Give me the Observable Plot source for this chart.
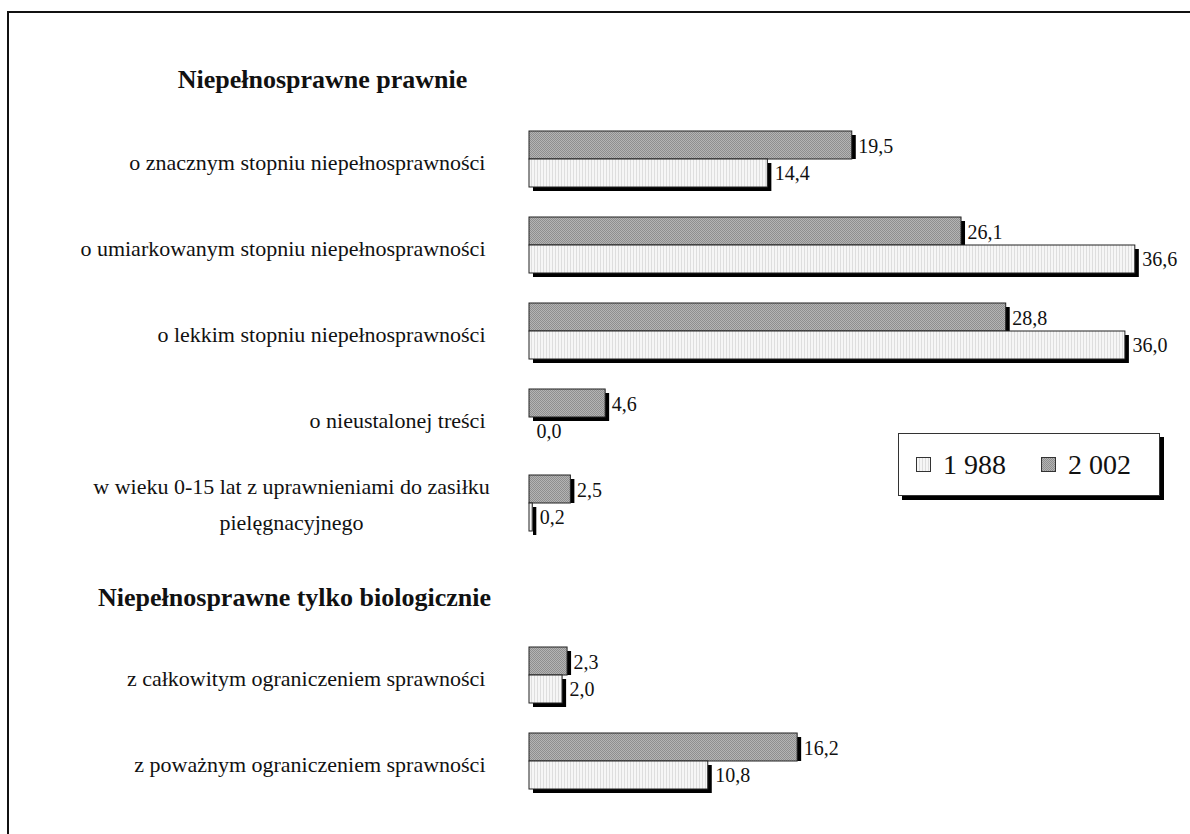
<!DOCTYPE html>
<html>
<head>
<meta charset="utf-8">
<script src="https://cdn.jsdelivr.net/npm/d3@7"></script>
<script src="https://cdn.jsdelivr.net/npm/@observablehq/plot@0.6"></script>
<style>
  html, body { margin: 0; padding: 0; background: #fff; }
  #wrap { position: relative; width: 1190px; height: 834px; overflow: hidden; font-family: "Liberation Serif", "Times New Roman", "DejaVu Serif", serif; }
  #chart svg, #chart svg text { font-family: "Liberation Serif", "Times New Roman", "DejaVu Serif", serif !important; }
  #frame { position: absolute; left: 7px; top: 11px; width: 1300px; height: 1000px; border-left: 2px solid #111; border-top: 2px solid #111; pointer-events: none; }
  #legend { position: absolute; left: 898px; top: 433px; width: 260px; height: 61px; border: 1px solid #333; background: #fff; box-shadow: 4px 4px 0 #000; display: flex; align-items: center; font-size: 28px; color: #111; }
  #legend .item { display: flex; align-items: center; margin-left: 17px; }
  #legend .item + .item { margin-left: 35px; }
  #legend svg { margin-right: 12px; }
</style>
</head>
<body>
<div id="wrap">
  <div id="chart"></div>
  <div id="frame"></div>
  <div id="legend"></div>
</div>
<script>
// ---- data ----
const headings = ["Niepełnosprawne prawnie", "Niepełnosprawne tylko biologicznie"];
const categories = [
  "o znacznym stopniu niepełnosprawności",
  "o umiarkowanym stopniu niepełnosprawności",
  "o lekkim stopniu niepełnosprawności",
  "o nieustalonej treści",
  "w wieku 0-15 lat z uprawnieniami do zasiłku\npielęgnacyjnego",
  "z całkowitym ograniczeniem sprawności",
  "z poważnym ograniczeniem sprawności"
];
const groupOf = [0, 0, 0, 0, 0, 1, 1];
const values1988 = [14.4, 36.6, 36.0, 0.0, 0.2, 2.0, 10.8];
const values2002 = [19.5, 26.1, 28.8, 4.6, 2.5, 2.3, 16.2];
const seriesNames = ["1 988", "2 002"];

// ---- derived tables ----
const yDomain = [];
headings.forEach((h, g) => {
  yDomain.push(h);
  categories.forEach((c, i) => { if (groupOf[i] === g) yDomain.push(c); });
});
const rows1988 = categories.map((c, i) => ({cat: c, v: values1988[i], other: values2002[i]}));
const rows2002 = categories.map((c, i) => ({cat: c, v: values2002[i], other: values1988[i]}));
const fmt = v => d3.format(".1f")(v).replace(".", ",");

const FONT = "Liberation Serif, Times New Roman, DejaVu Serif, serif";
const half = 28;
const fill88 = "url(#pat1988)", fill02 = "url(#pat2002)";

const plot = Plot.plot({
  width: 1190,
  height: 834,
  marginLeft: 529,
  marginRight: 32,
  marginTop: 30,
  marginBottom: 30,
  style: {fontFamily: FONT, fontSize: "20px", background: "transparent", color: "#111"},
  x: {domain: [0, 38], axis: null},
  y: {domain: yDomain, axis: null, paddingInner: 0.35, paddingOuter: 0.175},
  marks: [
    // shadows
    Plot.barX(rows2002.filter(d => d.v > 0 && d.other > 0), {y: "cat", x: "v", insetBottom: half, insetTop: 4, dx: 4, fill: "#000"}),
    Plot.barX(rows2002.filter(d => d.v > 0 && d.other === 0), {y: "cat", x: "v", insetBottom: half, dx: 4, dy: 4, fill: "#000"}),
    Plot.barX(rows1988.filter(d => d.v > 0), {y: "cat", x: "v", insetTop: half, dx: 4, dy: 4, fill: "#000"}),
    // bars
    Plot.barX(rows2002.filter(d => d.v > 0), {y: "cat", x: "v", insetBottom: half, fill: fill02, stroke: "#222", strokeWidth: 1}),
    Plot.barX(rows1988.filter(d => d.v > 0), {y: "cat", x: "v", insetTop: half, fill: fill88, stroke: "#222", strokeWidth: 1}),
    // value labels
    Plot.text(rows2002, {y: "cat", x: "v", text: d => fmt(d.v), textAnchor: "start", dx: 6, dy: -13, fontSize: 20, fontFamily: FONT, fill: "#111"}),
    Plot.text(rows1988, {y: "cat", x: "v", text: d => fmt(d.v), textAnchor: "start", dx: 7, dy: 14, fontSize: 20, fontFamily: FONT, fill: "#111"}),
    // category labels
    Plot.text(categories.filter(c => !c.includes("\n")), {y: d => d, frameAnchor: "left", text: d => d, textAnchor: "end", dx: -44, dy: 3, fontSize: 22, fontFamily: FONT, fill: "#111"}),
    Plot.text(categories.filter(c => c.includes("\n")), {y: d => d, frameAnchor: "left", text: d => d, textAnchor: "middle", dx: -238, dy: -3, lineHeight: 1.65, fontSize: 22, fontFamily: FONT, fill: "#111"}),
    // headings
    Plot.text([headings[0]], {y: d => d, frameAnchor: "left", text: d => d, textAnchor: "middle", dx: -207, dy: 6, fontSize: 26, fontWeight: "bold", fontFamily: FONT, fill: "#111"}),
    Plot.text([headings[1]], {y: d => d, frameAnchor: "left", text: d => d, textAnchor: "middle", dx: -235, dy: 8, fontSize: 26, fontWeight: "bold", fontFamily: FONT, fill: "#111"})
  ]
});

// patterns
const defs = `
<defs>
  <pattern id="pat2002" width="2" height="2" patternUnits="userSpaceOnUse">
    <rect width="2" height="2" fill="#b4b4b4"></rect>
    <rect x="0" y="0" width="1" height="1" fill="#8e8e8e"></rect>
    <rect x="1" y="1" width="1" height="1" fill="#8e8e8e"></rect>
  </pattern>
  <pattern id="pat1988" width="3" height="3" patternUnits="userSpaceOnUse">
    <rect width="3" height="3" fill="#f6f6f6"></rect>
    <rect x="0" y="0" width="1" height="3" fill="#dedede"></rect>
  </pattern>
</defs>`;
plot.insertAdjacentHTML("afterbegin", defs);
document.getElementById("chart").appendChild(plot);

// legend
const legend = document.getElementById("legend");
[fill88, fill02].forEach((f, i) => {
  const item = document.createElement("div");
  item.className = "item";
  item.innerHTML = `<svg width="15" height="15"><rect x="0.5" y="0.5" width="14" height="14" fill="${f}" stroke="#333"></rect></svg><span>${seriesNames[i]}</span>`;
  legend.appendChild(item);
});
</script>
</body>
</html>
